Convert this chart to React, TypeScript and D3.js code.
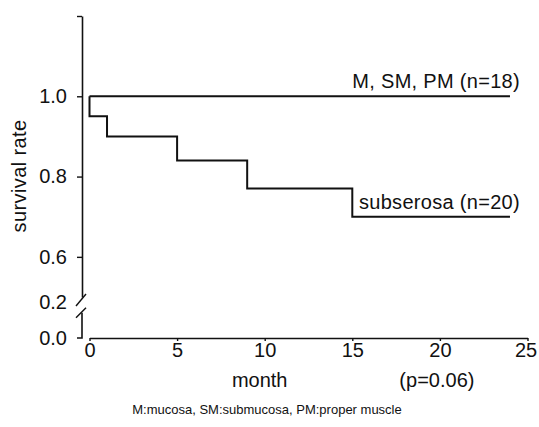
import { useEffect, useRef } from "react";
import * as d3 from "d3";

// Kaplan-Meier survival data
const groupNames = ["M, SM, PM (n=18)", "subserosa (n=20)"];
const mspmMonths = [0, 24];
const mspmSurvival = [1.0, 1.0];
const subserosaMonths = [0, 0, 1, 5, 9, 15, 24];
const subserosaSurvival = [1.0, 0.95, 0.9, 0.84, 0.77, 0.7, 0.7];

const xTicks = [0, 5, 10, 15, 20, 25];
const yTicksUpper = [1.2, 1.0, 0.8, 0.6];
const yLabelsUpper = ["", "1.0", "0.8", "0.6"];
const yLabelsLower = ["0.2", "0.0"];

const xTitle = "month";
const pValue = "(p=0.06)";
const yTitle = "survival rate";
const footnote = "M:mucosa, SM:submucosa, PM:proper muscle";

const FONT = "'Liberation Sans', Arial, Helvetica, sans-serif";
const FS = 20;

function SurvivalChart() {
  const svgRef = useRef<SVGSVGElement | null>(null);

  useEffect(() => {
    const width = 539;
    const height = 427;

    d3.select(svgRef.current).selectAll("*").remove();

    const svg = d3
      .select(svgRef.current)
      .attr("width", width)
      .attr("height", height)
      .style("font-family", FONT);

    svg.append("rect").attr("width", width).attr("height", height).attr("fill", "#fff");

    const x = d3.scaleLinear().domain([0, 25]).range([89.5, 527.5]);
    // upper part of the broken axis
    const yUp = d3.scaleLinear().domain([0.5, 1.2]).range([297, 16]);
    // lower part (0 - 0.2) compressed below the break
    const yLow = d3.scaleLinear().domain([0, 0.2]).range([338, 302]);

    const axisX = 82;
    const ink = "#111";

    // Y axis, upper segment
    const gUp = svg
      .append("g")
      .attr("transform", `translate(${axisX},0)`)
      .call(
        d3
          .axisLeft(yUp)
          .tickValues(yTicksUpper)
          .tickSize(5)
          .tickSizeOuter(0)
          .tickFormat((d, i) => yLabelsUpper[i])
      );
    gUp.select(".domain").attr("stroke", ink).attr("stroke-width", 1.6);
    gUp.selectAll(".tick line").attr("stroke", ink).attr("stroke-width", 1.4);
    gUp
      .selectAll(".tick text")
      .attr("x", -15)
      .attr("font-size", FS)
      .attr("font-family", FONT)
      .attr("fill", ink);

    // Y axis, lower segment
    const lowTop = yLow(0.14);
    svg
      .append("path")
      .attr("d", `M${axisX - 5},${yLow(0)}H${axisX}V${lowTop}`)
      .attr("fill", "none")
      .attr("stroke", ink)
      .attr("stroke-width", 1.6);

    // break marks
    svg
      .append("path")
      .attr("d", `M${axisX - 6},${yUp(0.5) + 9}L${axisX + 4},${yUp(0.5) - 3}`)
      .attr("stroke", ink)
      .attr("stroke-width", 1.4);
    svg
      .append("path")
      .attr("d", `M${axisX - 6},${lowTop + 5}L${axisX + 4},${lowTop - 5}`)
      .attr("stroke", ink)
      .attr("stroke-width", 1.4);

    svg
      .selectAll("text.ylow")
      .data([0.2, 0.0])
      .enter()
      .append("text")
      .attr("class", "ylow")
      .attr("x", axisX - 15)
      .attr("y", (d) => yLow(d))
      .attr("dy", "0.34em")
      .attr("text-anchor", "end")
      .attr("font-size", FS)
      .attr("fill", ink)
      .text((d, i) => yLabelsLower[i]);

    // X axis
    const gx = svg
      .append("g")
      .attr("transform", `translate(0,${yLow(0)})`)
      .call(d3.axisBottom(x).tickValues(xTicks).tickSize(3).tickSizeOuter(0));
    gx.select(".domain").attr("stroke", ink).attr("stroke-width", 1.6);
    gx.selectAll(".tick line").attr("stroke", ink).attr("stroke-width", 1.4);
    gx.selectAll(".tick text")
      .attr("y", 19)
      .attr("dy", 0)
      .attr("dx", (d) => (d === 25 ? -2 : 0))
      .attr("font-size", FS)
      .attr("font-family", FONT)
      .attr("fill", ink);

    // survival curves
    const line = d3
      .line<[number, number]>()
      .x((d) => x(d[0]))
      .y((d) => yUp(d[1]))
      .curve(d3.curveStepAfter);

    const series: [number, number][][] = [
      mspmMonths.map((m, i) => [m, mspmSurvival[i]]),
      subserosaMonths.map((m, i) => [m, subserosaSurvival[i]]),
    ];

    svg
      .selectAll("path.km")
      .data(series)
      .enter()
      .append("path")
      .attr("class", "km")
      .attr("fill", "none")
      .attr("stroke", ink)
      .attr("stroke-width", 2)
      .attr("d", (d) => line(d));

    // group labels
    svg
      .selectAll("text.group")
      .data(series)
      .enter()
      .append("text")
      .attr("class", "group")
      .attr("x", (d) => x(d[d.length - 1][0]) + 10)
      .attr("y", (d) => yUp(d[d.length - 1][1]) - 8)
      .attr("text-anchor", "end")
      .attr("font-size", FS)
      .attr("letter-spacing", 0.3)
      .attr("fill", ink)
      .text((d, i) => groupNames[i]);

    // titles
    svg
      .append("text")
      .attr("x", x(10) - 5)
      .attr("y", 387)
      .attr("text-anchor", "middle")
      .attr("font-size", FS)
      .attr("fill", ink)
      .text(xTitle);

    svg
      .append("text")
      .attr("x", x(20) - 3)
      .attr("y", 387)
      .attr("text-anchor", "middle")
      .attr("font-size", FS)
      .attr("fill", ink)
      .text(pValue);

    svg
      .append("text")
      .attr("transform", `translate(26,${176}) rotate(-90)`)
      .attr("text-anchor", "middle")
      .attr("font-size", FS)
      .attr("letter-spacing", 0.4)
      .attr("fill", ink)
      .text(yTitle);

    svg
      .append("text")
      .attr("x", 267)
      .attr("y", 414)
      .attr("text-anchor", "middle")
      .attr("font-size", 13)
      .attr("fill", ink)
      .text(footnote);
  }, []);

  return <svg ref={svgRef} style={{ display: "block" }}></svg>;
}

export default function App() {
  return (
    <div style={{ position: "fixed", left: 0, top: 0, background: "#fff" }}>
      <SurvivalChart />
    </div>
  );
}
